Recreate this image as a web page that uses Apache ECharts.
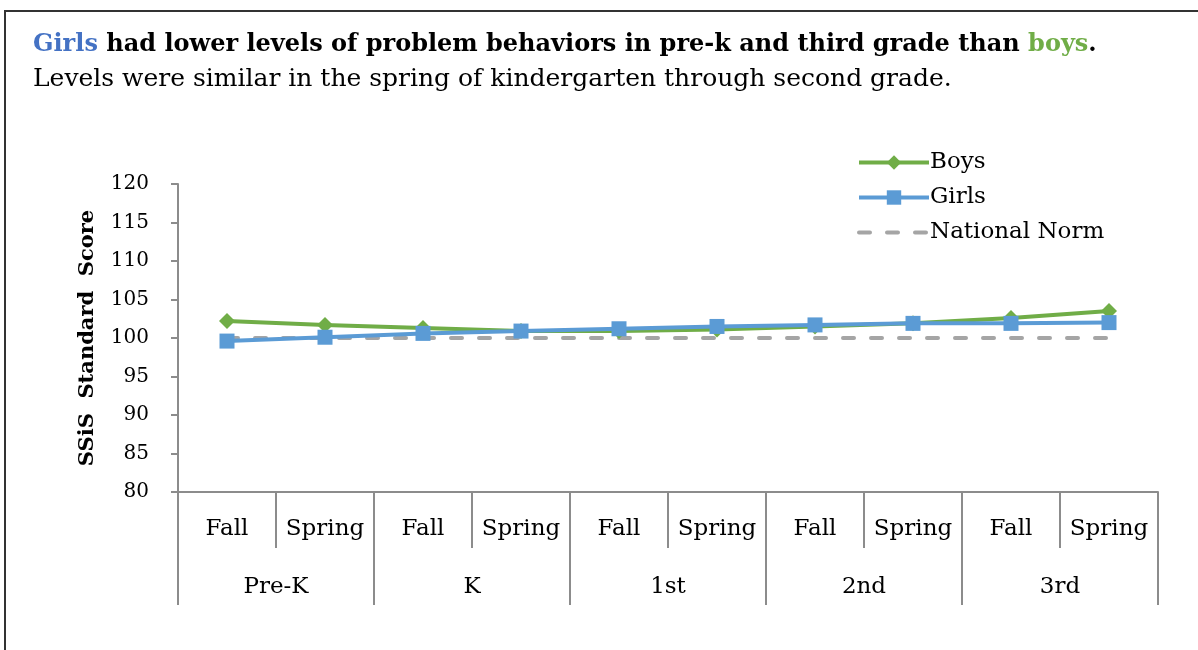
<!DOCTYPE html>
<html lang="en">
<head>
    <meta charset="UTF-8">
    <title>Problem behaviors by gender</title>
    <script src="https://cdn.jsdelivr.net/npm/echarts@6/dist/echarts.min.js"></script>
    <style>
        body { margin: 0; background: #fff; }
        #chart { width: 1198px; height: 650px; }
    </style>
</head>
<body>
<div id="chart"></div>
<script>
    // data
    var seasons = ['Fall', 'Spring', 'Fall', 'Spring', 'Fall', 'Spring', 'Fall', 'Spring', 'Fall', 'Spring'];
    var grades = ['Pre-K', 'K', '1st', '2nd', '3rd'];
    var boys = [102.2, 101.7, 101.3, 100.9, 100.9, 101.1, 101.5, 101.9, 102.6, 103.5];
    var girls = [99.6, 100.1, 100.6, 100.9, 101.2, 101.5, 101.7, 101.9, 101.9, 102.0];
    var norm = [100, 100, 100, 100, 100, 100, 100, 100, 100, 100];
    var yTicks = [80, 85, 90, 95, 100, 105, 110, 115, 120];

    var serif = '"DejaVu Serif", "Liberation Serif", serif';
    var tickColor = '#8c8c8c';
    var chart = echarts.init(document.getElementById('chart'));

    var option = {
        textStyle: { fontFamily: serif },
        graphic: [{
            type: 'rect',
            shape: { x: 5, y: 11, width: 1300, height: 700 },
            style: { fill: 'none', stroke: '#333', lineWidth: 2 }
        }],
        title: {
            left: 28, top: 28,
            text: '{g|Girls} had lower levels of problem behaviors in pre-k and third grade than {b|boys}{n|.}',
            subtext: 'Levels were similar in the spring of kindergarten through second grade.',
            itemGap: 10,
            textStyle: {
                fontFamily: serif, fontSize: 24, fontWeight: 'bold', color: '#000',
                rich: {
                    g: { fontFamily: serif, fontSize: 24, fontWeight: 'bold', color: '#4472C4' },
                    b: { fontFamily: serif, fontSize: 24, fontWeight: 'bold', color: '#70AD47' },
                    n: { fontFamily: serif, fontSize: 24, color: '#000' }
                }
            },
            subtextStyle: { fontFamily: serif, fontSize: 25, color: '#000' }
        },
        legend: {
            orient: 'vertical',
            left: 852, top: 146,
            itemWidth: 70, itemHeight: 18, itemGap: 12,
            lineStyle: { width: 4 },
            textStyle: { fontFamily: serif, fontSize: 23, color: '#000', padding: [0, 0, 0, -4] },
            data: ['Boys', 'Girls', { name: 'National Norm', itemStyle: { opacity: 0 } }]
        },
        grid: { left: 178, right: 40, top: 184, bottom: 158 },
        xAxis: [{
            type: 'category',
            data: seasons,
            position: 'bottom',
            axisLine: { lineStyle: { color: tickColor, width: 2 } },
            axisTick: { show: true, length: 56, interval: 0, lineStyle: { color: tickColor, width: 2 } },
            axisLabel: { interval: 0, margin: 26, fontSize: 23, color: '#000', fontFamily: serif }
        }, {
            type: 'category',
            data: grades,
            position: 'bottom',
            axisLine: { show: false },
            axisTick: { show: true, length: 113, interval: 0, lineStyle: { color: tickColor, width: 2 } },
            axisLabel: { interval: 0, margin: 84, fontSize: 23, color: '#000', fontFamily: serif }
        }],
        yAxis: {
            type: 'value',
            min: yTicks[0], max: yTicks[yTicks.length - 1], interval: 5,
            name: 'SSiS  Standard  Score',
            nameLocation: 'middle',
            nameGap: 80,
            nameTextStyle: { fontFamily: serif, fontSize: 21, fontWeight: 'bold', color: '#000' },
            axisLine: { show: true, lineStyle: { color: tickColor, width: 2 } },
            axisTick: { show: true, length: 7, lineStyle: { color: tickColor, width: 2 } },
            splitLine: { show: false },
            axisLabel: { fontSize: 20, color: '#000', margin: 29, fontFamily: serif }
        },
        series: [{
            name: 'National Norm',
            type: 'line',
            data: norm,
            symbol: 'none',
            z: 1,
            itemStyle: { color: '#A5A5A5' },
            lineStyle: { color: '#A5A5A5', width: 4, type: [11, 17], cap: 'round' }
        }, {
            name: 'Boys',
            type: 'line',
            data: boys,
            symbol: 'diamond',
            symbolSize: 16,
            z: 2,
            itemStyle: { color: '#70AD47' },
            lineStyle: { color: '#70AD47', width: 4 }
        }, {
            name: 'Girls',
            type: 'line',
            data: girls,
            symbol: 'rect',
            symbolSize: 15,
            z: 3,
            itemStyle: { color: '#5B9BD5' },
            lineStyle: { color: '#5B9BD5', width: 4 }
        }]
    };

    chart.setOption(option);
</script>
</body>
</html>
